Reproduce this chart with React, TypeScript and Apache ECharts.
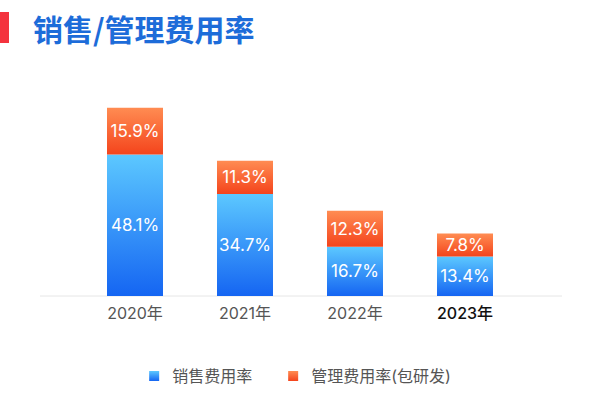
import React, { useEffect, useRef } from "react";
import * as echarts from "echarts";

const categories = ["2020年", "2021年", "2022年", "2023年"];
const salesRate = [48.1, 34.7, 16.7, 13.4];
const adminRate = [15.9, 11.3, 12.3, 7.8];
const seriesNames = ["销售费用率", "管理费用率(包研发)"];
const titleText = "销售/管理费用率";

const FONT = "Inter, 'Noto Sans CJK SC', sans-serif";

export default function App() {
  const ref = useRef<HTMLDivElement>(null);
  useEffect(() => {
    if (!ref.current) return;
    const chart = echarts.init(ref.current, null, { renderer: "svg" });
    const blue = new echarts.graphic.LinearGradient(0, 0, 0, 1, [
      { offset: 0, color: "#5cc8ff" },
      { offset: 1, color: "#1565f2" },
    ]);
    const orange = new echarts.graphic.LinearGradient(0, 0, 0, 1, [
      { offset: 0, color: "#ff8c52" },
      { offset: 1, color: "#f4441c" },
    ]);
    const label = {
      show: true,
      position: "inside",
      color: "#fff",
      fontSize: 17,
      fontFamily: FONT,
      formatter: "{c}%",
    };
    chart.setOption({
      animation: false,
      textStyle: { fontFamily: FONT },
      graphic: [
        { type: "rect", shape: { x: 0, y: 12, width: 9, height: 31 }, style: { fill: "#f4333e" } },
        {
          type: "text",
          x: 33,
          y: 28,
          style: {
            text: titleText,
            fill: "#1d6cd9",
            font: `bold 30px 'Noto Sans CJK SC', sans-serif`,
            textVerticalAlign: "middle",
          },
        },
        {
          type: "line",
          shape: { x1: 40, y1: 296, x2: 562, y2: 296 },
          style: { stroke: "#e6e6e6", lineWidth: 1 },
        },
      ],
      legend: {
        data: seriesNames,
        left: "center",
        top: 363,
        itemWidth: 10,
        itemHeight: 10,
        itemGap: 36,
        icon: "rect",
        textStyle: { color: "#555", fontSize: 16, fontFamily: FONT, padding: [0, 0, 0, 8] },
      },
      grid: { left: 80, right: 80, top: 90, bottom: 104 },
      xAxis: {
        type: "category",
        data: categories,
        axisLine: { show: false },
        axisTick: { show: false },
        axisLabel: {
          margin: 9,
          fontSize: 16,
          formatter: (v: string, i: number) => (i === 3 ? `{b|${v}}` : `{a|${v}}`),
          rich: {
            a: { color: "#555", fontSize: 16, fontFamily: FONT },
            b: { color: "#111", fontSize: 16, fontFamily: FONT, fontWeight: 500 },
          },
        },
      },
      yAxis: {
        type: "value",
        min: 0,
        max: 70,
        show: false,
        splitLine: { show: false },
      },
      series: [
        {
          name: seriesNames[0],
          type: "bar",
          stack: "total",
          barWidth: 56,
          data: salesRate,
          itemStyle: { color: blue },
          label,
        },
        {
          name: seriesNames[1],
          type: "bar",
          stack: "total",
          barWidth: 56,
          data: adminRate,
          itemStyle: { color: orange },
          label,
        },
      ],
    });
    return () => chart.dispose();
  }, []);
  return <div ref={ref} style={{ width: 600, height: 400, position: "absolute", left: 0, top: 0 }} />;
}
